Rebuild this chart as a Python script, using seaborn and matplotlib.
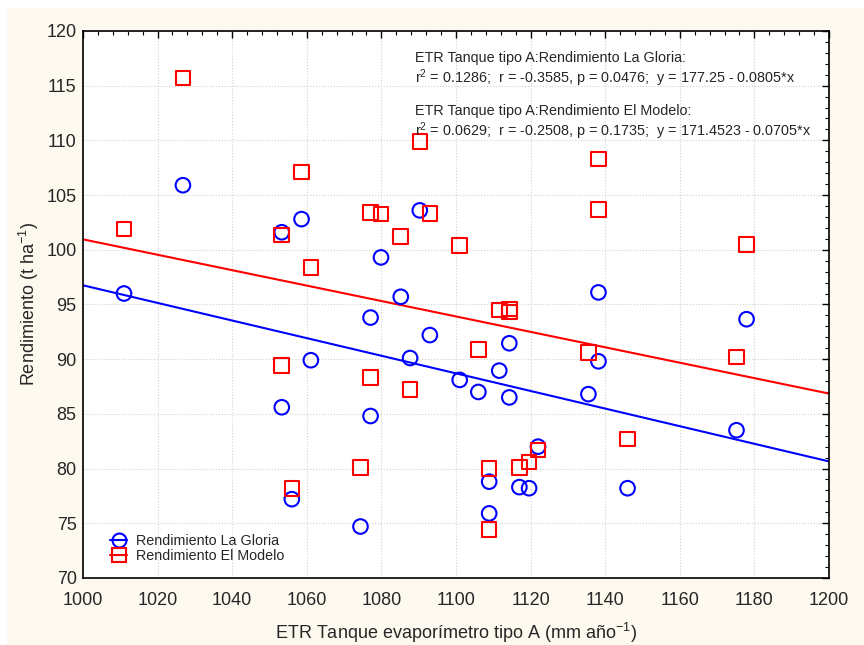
import numpy as np
import pandas as pd
import matplotlib
matplotlib.use("Agg")
import matplotlib.pyplot as plt
from matplotlib.lines import Line2D
from matplotlib.patches import Rectangle
from matplotlib.ticker import MultipleLocator
import seaborn as sns

# ---- data ----
etr = [1011.0, 1026.8, 1053.3, 1053.3, 1056.0, 1058.6, 1061.1, 1074.4, 1077.1, 1077.1,
       1079.9, 1085.2, 1087.7, 1090.3, 1093.0, 1101.0, 1106.0, 1108.9, 1108.9, 1111.6,
       1114.3, 1114.3, 1117.0, 1119.6, 1122.0, 1135.5, 1138.2, 1138.2, 1146.0, 1175.2,
       1177.9]
gloria = [96.0, 105.9, 101.6, 85.6, 77.2, 102.8, 89.9, 74.7, 93.8, 84.8,
          99.3, 95.7, 90.1, 103.6, 92.2, 88.1, 87.0, 78.8, 75.9, 88.95,
          91.45, 86.5, 78.3, 78.2, 82.0, 86.8, 96.1, 89.8, 78.2, 83.5,
          93.65]
modelo = [101.9, 115.7, 101.35, 89.4, 78.2, 107.1, 98.4, 80.1, 103.4, 88.3,
          103.25, 101.2, 87.25, 109.9, 103.3, 100.4, 90.9, 80.0, 74.45, 94.5,
          94.6, 94.3, 80.1, 80.6, 81.7, 90.6, 108.3, 103.7, 82.7, 90.2,
          100.5]
# regression coefficients printed on the chart (intercept, slope)
fit_gloria = (177.25, -0.0805)
fit_modelo = (171.4523, -0.0705)
series_labels = ["Rendimiento La Gloria", "Rendimiento El Modelo"]
annot_lines = [
    "ETR Tanque tipo A:Rendimiento La Gloria:",
    "r$^2$ = 0.1286;  r = -0.3585, p = 0.0476;  y = 177.25 - 0.0805*x",
    "ETR Tanque tipo A:Rendimiento El Modelo:",
    "r$^2$ = 0.0629;  r = -0.2508, p = 0.1735;  y = 171.4523 - 0.0705*x",
]

sns.set_style("white")
plt.rcParams['font.family'] = ['Liberation Sans', 'DejaVu Sans']
plt.rcParams['mathtext.fontset'] = 'custom'
plt.rcParams['mathtext.rm'] = 'Liberation Sans'
plt.rcParams['mathtext.it'] = 'Liberation Sans:italic'

fig = plt.figure(figsize=(8.64, 6.45), dpi=100, facecolor='#FDF9EF')
fig.patches.append(Rectangle((0.0, 0.0), 0.008, 1.0, transform=fig.transFigure,
                             facecolor='white', edgecolor='none', zorder=-10))
fig.patches.append(Rectangle((0.0, 0.988), 1.0, 0.012, transform=fig.transFigure,
                             facecolor='white', edgecolor='none', zorder=-10))
ax = fig.add_axes([0.096, 0.104, 0.8635, 0.848])
ax.set_facecolor('white')

df = pd.DataFrame({"etr": etr, "gloria": gloria, "modelo": modelo})

sns.scatterplot(data=df, x="etr", y="gloria", marker='o', s=110,
                facecolor='none', edgecolor='#0000FF', linewidth=1.5, ax=ax, zorder=3)
sns.scatterplot(data=df, x="etr", y="modelo", marker='s', s=110,
                facecolor='none', edgecolor='#FF0000', linewidth=1.5, ax=ax, zorder=3)

xs = np.array([1000.0, 1200.0])
sns.lineplot(x=xs, y=fit_gloria[0] + fit_gloria[1] * xs, color='#0000FF', lw=1.5, ax=ax, zorder=2)
sns.lineplot(x=xs, y=fit_modelo[0] + fit_modelo[1] * xs, color='#FF0000', lw=1.5, ax=ax, zorder=2)

ax.set_xlim(1000, 1200)
ax.set_ylim(70, 120)
ax.xaxis.set_major_locator(MultipleLocator(20))
ax.xaxis.set_minor_locator(MultipleLocator(4))
ax.yaxis.set_major_locator(MultipleLocator(5))
ax.yaxis.set_minor_locator(MultipleLocator(1))
ax.tick_params(which='both', direction='in', top=True, right=True, color='black')
ax.tick_params(which='major', length=5, width=1, labelsize=13)
ax.tick_params(axis='y', which='major', pad=4.5)
ax.tick_params(axis='x', which='major', pad=10)
ax.tick_params(which='minor', length=3, width=0.8)
ax.grid(True, which='major', linestyle=':', color='#d0d0d0', linewidth=0.8)
for s in ax.spines.values():
    s.set_color('black')
    s.set_linewidth(1.2)

ax.set_xlabel("ETR Tanque evaporímetro tipo A (mm año$^{-1}$)", fontsize=13, labelpad=9)
ax.set_ylabel("Rendimiento (t ha$^{-1}$)", fontsize=13, labelpad=4)

for txt, yy in zip(annot_lines, [0.943, 0.905, 0.846, 0.808]):
    ax.text(0.445, yy, txt, transform=ax.transAxes, fontsize=10.4, va='baseline', ha='left')

handles = [
    Line2D([0], [0], color='#0000FF', marker='o', markerfacecolor='none', markersize=10,
           markeredgewidth=1.5, lw=1.5),
    Line2D([0], [0], color='#FF0000', marker='s', markerfacecolor='none', markersize=10,
           markeredgewidth=1.5, lw=1.5),
]
leg = ax.legend(handles, series_labels, loc='lower left', bbox_to_anchor=(0.025, 0.012),
                frameon=False, fontsize=10.3, handlelength=1.2, handletextpad=0.6,
                labelspacing=0.05, borderaxespad=0.2)

fig.savefig("out.png", dpi=100, facecolor=fig.get_facecolor())
